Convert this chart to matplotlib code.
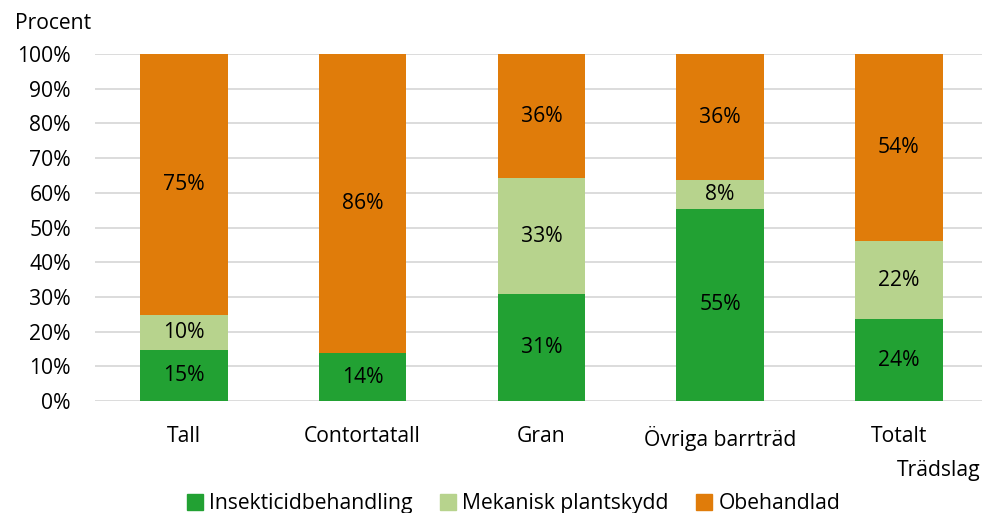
import numpy as np
import matplotlib.pyplot as plt
from matplotlib.patches import Patch

plt.rcParams["font.family"] = ["Open Sans", "DejaVu Sans"]
FS = 15.2

categories = ["Tall", "Contortatall", "Gran", "Övriga barrträd", "Totalt"]
insekticid = [14.7, 13.8, 30.8, 55.4, 23.6]
mekanisk = [10.1, 0.0, 33.4, 8.2, 22.4]
obehandlad = [75.2, 86.2, 35.8, 36.4, 54.0]
series = [("Insekticidbehandling", insekticid, "#22a133"),
          ("Mekanisk plantskydd", mekanisk, "#b7d38d"),
          ("Obehandlad", obehandlad, "#e07c0a")]

fig = plt.figure(figsize=(9.82, 5.13), dpi=100)
ax = fig.add_axes([0.0963, 0.2183, 0.910, 0.6764])

x = np.arange(len(categories))
bottom = np.zeros(len(categories))
for name, vals, col in series:
    vals = np.array(vals)
    ax.bar(x, vals, 0.49, bottom=bottom, color=col, zorder=2)
    for xi, b, v in zip(x, bottom, vals):
        if v > 0:
            ax.text(xi, b + v / 2, f"{v:.0f}%", ha="center", va="center", fontsize=FS, color="black")
    bottom += vals

ax.set_xlim(-0.5, 4.5)
ax.set_ylim(0, 100)
ax.set_yticks(range(0, 101, 10))
ax.set_yticklabels([f"{t}%" for t in range(0, 101, 10)], fontsize=FS)
ax.set_xticks(x)
ax.set_xticklabels(categories, fontsize=FS)
ax.tick_params(length=0)
ax.tick_params(axis="y", pad=17)
ax.tick_params(axis="x", pad=18)
ax.grid(axis="y", color="#d9d9d9", lw=1.3, zorder=0)
for s in ax.spines.values():
    s.set_visible(False)

fig.text(0.015, 0.955, "Procent", fontsize=FS, va="center")
fig.text(0.998, 0.083, "Trädslag", fontsize=FS, va="center", ha="right")
handles = [Patch(color=c, label=n) for n, _, c in series]
fig.legend(handles=handles, loc="center", bbox_to_anchor=(0.523, 0.018), ncol=3, frameon=False,
           fontsize=FS, handlelength=0.75, handleheight=0.75, handletextpad=0.3, columnspacing=1.3)

fig.savefig("out.png", dpi=100)
